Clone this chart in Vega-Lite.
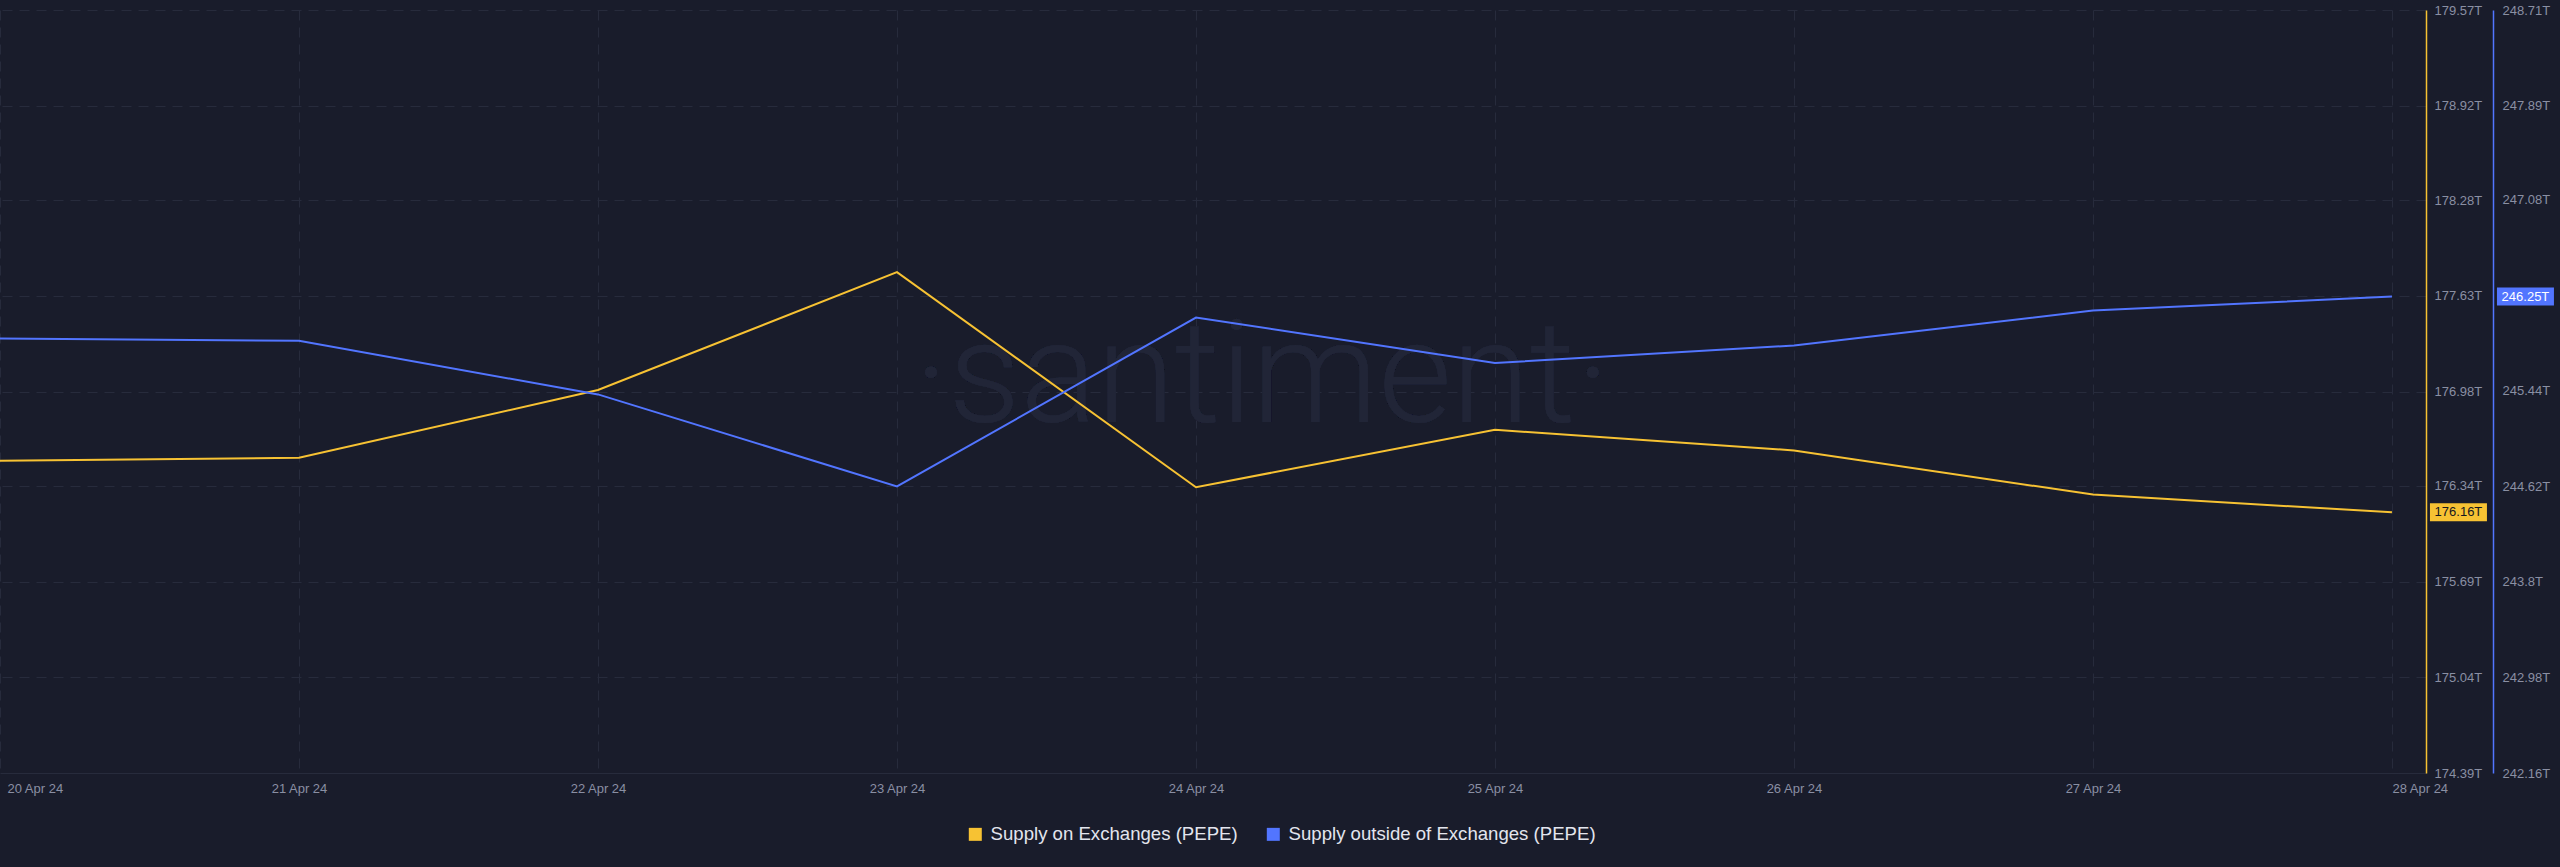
{
  "$schema": "https://vega.github.io/schema/vega-lite/v6.json",
  "width": 2426,
  "height": 763,
  "autosize": {"type": "none"},
  "padding": {"left": 0, "top": 10, "right": 134, "bottom": 94},
  "background": "#191c2b",
  "config": {
    "view": {"stroke": null},
    "font": "Liberation Sans"
  },
  "data": {
    "values": [
      {"date": "2024-04-20", "on": 176.51, "outside": 245.89},
      {"date": "2024-04-21", "on": 176.53, "outside": 245.87},
      {"date": "2024-04-22", "on": 176.99, "outside": 245.41},
      {"date": "2024-04-23", "on": 177.79, "outside": 244.62},
      {"date": "2024-04-24", "on": 176.33, "outside": 246.07},
      {"date": "2024-04-25", "on": 176.72, "outside": 245.68},
      {"date": "2024-04-26", "on": 176.58, "outside": 245.83},
      {"date": "2024-04-27", "on": 176.28, "outside": 246.13},
      {"date": "2024-04-28", "on": 176.16, "outside": 246.25}
    ],
    "format": {"parse": {"date": "date"}}
  },
  "layer": [
    {
      "mark": {"type": "text", "font": "Roboto", "fontWeight": 300, "fontSize": 142, "color": "#212537", "align": "center", "baseline": "alphabetic"},
      "encoding": {
        "x": {"datum": {"year": 2024, "month": 4, "date": 24, "hours": 5, "minutes": 18, "utc": true}, "type": "temporal"},
        "y": {"datum": 0.46, "type": "quantitative", "scale": {"domain": [0, 1]}, "axis": null},
        "text": {"value": "·santiment·"}
      }
    },
    {
      "encoding": {
        "x": {
          "field": "date",
          "type": "temporal",
          "scale": {"type": "utc", "domain": [{"year": 2024, "month": 4, "date": 20, "utc": true}, {"year": 2024, "month": 4, "date": 28, "hours": 2, "minutes": 44, "utc": true}]},
          "axis": {
            "title": null,
            "values": [
              {"year": 2024, "month": 4, "date": 20, "utc": true},
              {"year": 2024, "month": 4, "date": 21, "utc": true},
              {"year": 2024, "month": 4, "date": 22, "utc": true},
              {"year": 2024, "month": 4, "date": 23, "utc": true},
              {"year": 2024, "month": 4, "date": 24, "utc": true},
              {"year": 2024, "month": 4, "date": 25, "utc": true},
              {"year": 2024, "month": 4, "date": 26, "utc": true},
              {"year": 2024, "month": 4, "date": 27, "utc": true},
              {"year": 2024, "month": 4, "date": 28, "utc": true}
            ],
            "labelExpr": "utcFormat(datum.value, '%d %b %y')",
            "grid": true,
            "gridColor": "#272b3c",
            "gridDash": [10, 7],
            "domainColor": "#272b3c",
            "ticks": false,
            "labelColor": "#8a8fa3",
            "labelFontSize": 13,
            "labelPadding": 9,
            "labelFlush": false,
            "labelOverlap": false,
            "labelBound": false,
            "labelAlign": {"expr": "datum.index == 0 || datum.index == 1 ? 'left' : 'center'"},
            "labelOffset": {"expr": "datum.index == 0 ? 7 : 0"}
          }
        },
        "y": {
          "field": "on",
          "type": "quantitative",
          "scale": {"domain": [174.39, 179.57], "nice": false, "zero": false},
          "axis": {
            "orient": "right",
            "title": null,
            "values": [174.39, 175.04, 175.69, 176.34, 176.98, 177.63, 178.28, 178.92, 179.57],
            "labelExpr": "datum.value + 'T'",
            "grid": true,
            "gridColor": "#272b3c",
            "gridDash": [10, 7],
            "domainColor": "#f7c233",
            "domainWidth": 1.5,
            "ticks": false,
            "labelColor": "#8a8fa3",
            "labelFontSize": 13,
            "labelPadding": 8,
            "labelAlign": "left",
            "labelBaseline": "middle",
            "labelFlush": false,
            "labelOverlap": false,
            "offset": 0
          }
        }
      },
      "layer": [
        {
          "mark": {"type": "line", "strokeWidth": 2},
          "encoding": {
            "color": {
              "datum": "Supply on Exchanges (PEPE)",
              "type": "nominal",
              "scale": {"domain": ["Supply on Exchanges (PEPE)", "Supply outside of Exchanges (PEPE)"], "range": ["#f7c233", "#5275ff"]},
              "legend": {
                "orient": "none",
                "legendX": 966,
                "legendY": 815,
                "direction": "horizontal",
                "title": null,
                "symbolType": "square",
                "symbolSize": 169,
                "symbolStrokeWidth": 0,
                "labelColor": "#e3e5ee",
                "labelFontSize": 18.6,
                "labelLimit": 0,
                "labelOffset": 6,
                "columnPadding": 26,
                "encode": {
                  "symbols": {"update": {"fill": {"scale": "color", "field": "value"}, "fillOpacity": {"value": 1}}}
                }
              }
            }
          }
        },
        {
          "transform": [{"filter": "utcdate(datum.date) == 28"}],
          "mark": {"type": "rect", "color": "#f7c233", "xOffset": 38, "x2Offset": 95, "yOffset": -9, "y2Offset": 9},
          "encoding": {"x2": {"field": "date"}, "y2": {"field": "on"}}
        },
        {
          "transform": [{"filter": "utcdate(datum.date) == 28"}],
          "mark": {"type": "text", "xOffset": 66.5, "align": "center", "baseline": "middle", "fontSize": 13, "color": "#15171f", "text": {"expr": "format(datum.on, '.2f') + 'T'"}},
          "encoding": {}
        }
      ]
    },
    {
      "encoding": {
        "x": {"field": "date", "type": "temporal"},
        "y": {
          "field": "outside",
          "type": "quantitative",
          "scale": {"domain": [242.16, 248.71], "nice": false, "zero": false},
          "axis": {
            "orient": "right",
            "title": null,
            "values": [242.16, 242.98, 243.8, 244.62, 245.44, 246.26, 247.08, 247.89, 248.71],
            "labelExpr": "datum.value + 'T'",
            "grid": false,
            "domainColor": "#5275ff",
            "domainWidth": 1.5,
            "ticks": false,
            "labelColor": "#8a8fa3",
            "labelFontSize": 13,
            "labelPadding": 9,
            "labelAlign": "left",
            "labelBaseline": "middle",
            "labelFlush": false,
            "labelOverlap": false,
            "offset": 67
          }
        }
      },
      "layer": [
        {
          "mark": {"type": "line", "strokeWidth": 2},
          "encoding": {"color": {"datum": "Supply outside of Exchanges (PEPE)", "type": "nominal"}}
        },
        {
          "transform": [{"filter": "utcdate(datum.date) == 28"}],
          "mark": {"type": "rect", "color": "#5275ff", "xOffset": 105, "x2Offset": 162, "yOffset": -9, "y2Offset": 9},
          "encoding": {"x2": {"field": "date"}, "y2": {"field": "outside"}}
        },
        {
          "transform": [{"filter": "utcdate(datum.date) == 28"}],
          "mark": {"type": "text", "xOffset": 133.5, "align": "center", "baseline": "middle", "fontSize": 13, "color": "#ffffff", "text": {"expr": "format(datum.outside, '.2f') + 'T'"}},
          "encoding": {}
        }
      ]
    }
  ],
  "resolve": {"scale": {"y": "independent"}}
}
